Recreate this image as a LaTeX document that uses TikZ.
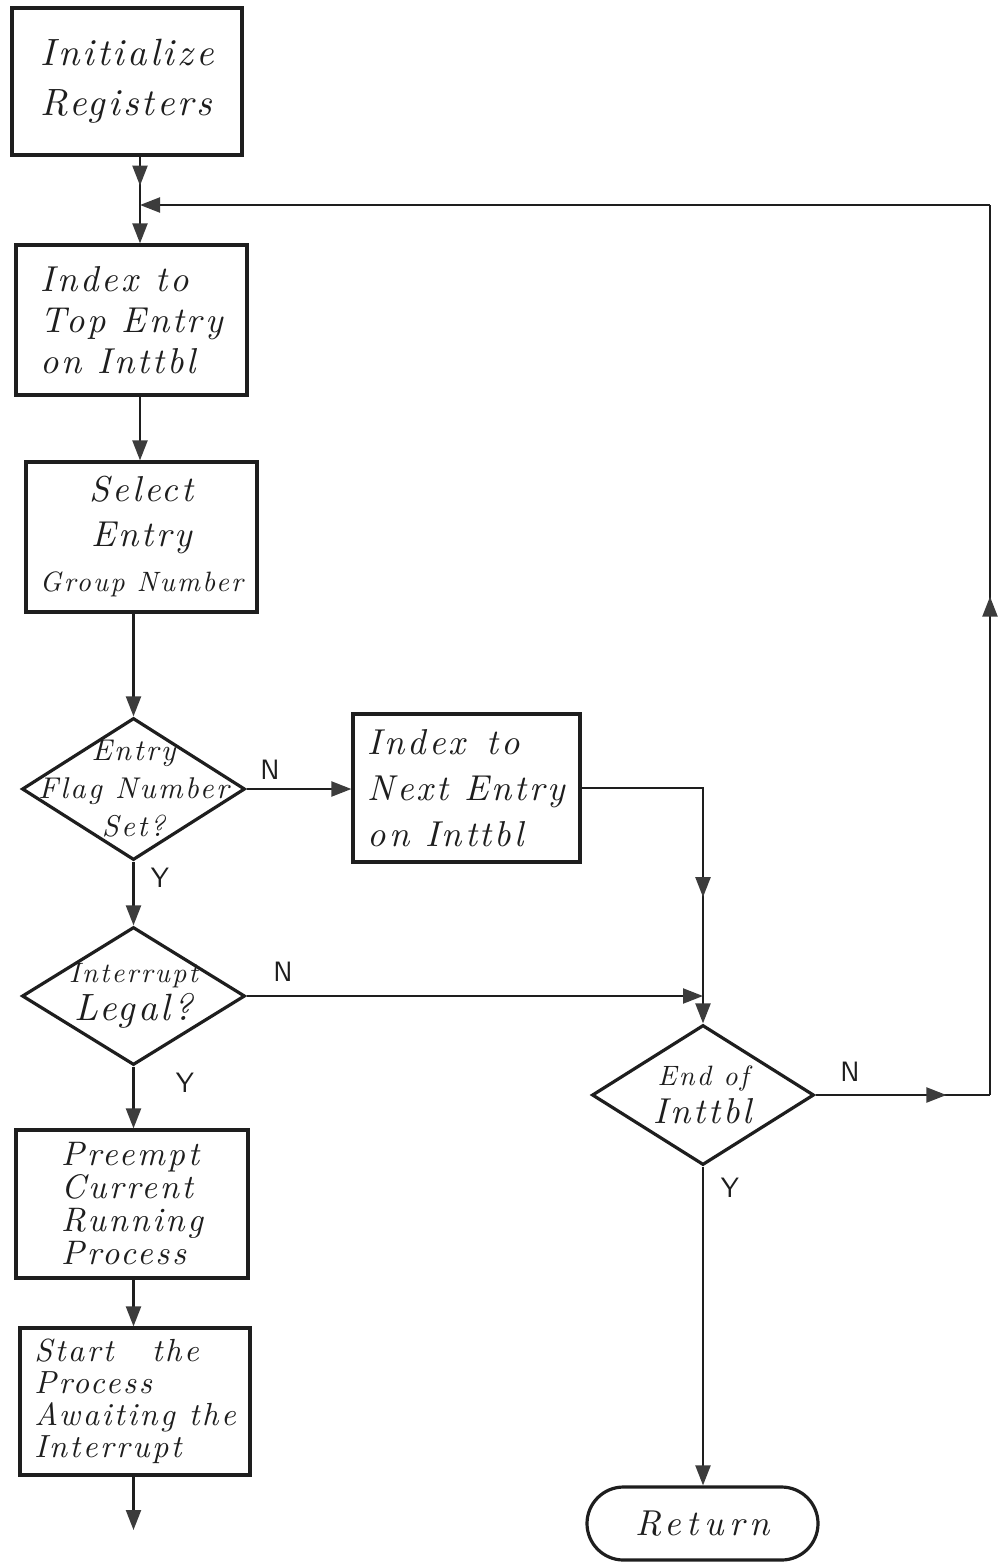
\documentclass[tikz,border=0pt]{standalone}
\usepackage{fontspec}
\usetikzlibrary{arrows.meta,shapes.geometric,shapes.misc,decorations.markings}
\newfontfamily\hand{lmroman10}[Extension=.otf,UprightFont=*-regular,ItalicFont=*-italic,
  BoldFont=*-bold,BoldItalicFont=*-bolditalic,LetterSpace=8]
\newfontfamily\handwide{lmroman10}[Extension=.otf,UprightFont=*-regular,ItalicFont=*-italic,
  BoldFont=*-bold,BoldItalicFont=*-bolditalic,LetterSpace=15]
\definecolor{ink}{HTML}{1E1E1E}
\definecolor{tipgray}{HTML}{3C3C3C}
\begin{document}
\begin{tikzpicture}[x=0.5pt,y=-0.5pt,
  conn/.style={draw=ink,line width=1.1pt},
  endtip/.style={-{Triangle[length=10pt,width=7.5pt,color=tipgray]}},
  midtip/.style={postaction={decorate},decoration={markings,
      mark=at position #1 with {\arrow{Triangle[length=10pt,width=7.5pt,color=tipgray]}}}},
  box/.style={draw=ink,line width=1.6pt,rectangle,inner sep=0pt,align=left,text=ink},
  dia/.style={draw=ink,line width=1.6pt,diamond,inner sep=0pt},
  dtext/.style={align=center,text=ink,font=\hand\itshape\fontsize{15}{19}\selectfont},
  yn/.style={text=ink,font=\sffamily\fontsize{14}{14}\selectfont},
]
\useasboundingbox (0,0) rectangle (999,1562);

% process boxes
\node[box,minimum width=115pt,minimum height=73.5pt,
      font=\hand\itshape\fontsize{19}{25}\selectfont] (init) at (127,81.5) {Initialize\\Registers};
\node[box,minimum width=115.5pt,minimum height=75pt,
      font=\hand\itshape\fontsize{18}{20.5}\selectfont] (top) at (131.5,320)
      {Index\hspace{0.5em}to\\Top Entry\\on Inttbl};
\node[box,align=center,minimum width=115.5pt,minimum height=75pt,
      font=\hand\itshape\fontsize{18}{22.5}\selectfont] (sel) at (141.5,537)
      {Select\\Entry\\{\fontsize{14}{18}\selectfont Group Number}};
\node[box,minimum width=113.5pt,minimum height=74pt,
      font=\hand\itshape\fontsize{18}{23}\selectfont] (next) at (466.5,788)
      {Index\hspace{0.6em}to\\Next Entry\\on Inttbl};
\node[box,minimum width=116pt,minimum height=74pt,
      font=\hand\itshape\fontsize{17}{16.5}\selectfont] (pre) at (132,1204)
      {Preempt\\Current\\Running\\Process};
\node[box,minimum width=115pt,minimum height=73.5pt,
      font=\hand\itshape\fontsize{16}{16}\selectfont] (start) at (135,1401.5)
      {Start\hspace{1.2em}the\\Process\\Awaiting the\\Interrupt};

% decisions
\node[dia,minimum width=111.5pt,minimum height=71pt] (d1) at (133.5,789) {};
\node[dtext] (d1t) at (d1) {Entry\\Flag Number\\Set?};
\node[dia,minimum width=111.5pt,minimum height=69pt] (d2) at (133.5,996) {};
\node[dtext] (d2t) at (d2) {{\fontsize{14}{19}\selectfont Interrupt}\\{\fontsize{19}{23}\selectfont Legal?}};
\node[dia,minimum width=111pt,minimum height=70pt] (d3) at (703,1095) {};
\node[dtext] (d3t) at (d3) {{\fontsize{14}{19}\selectfont End of}\\{\fontsize{18}{22}\selectfont Inttbl}};

% terminal
\node[draw=ink,line width=1.6pt,rounded rectangle,minimum width=115.5pt,minimum height=36.5pt,
      inner sep=0pt,text=ink,font=\handwide\itshape\fontsize{18}{18}\selectfont] (ret) at (702.5,1523.5) {Return};

% branch labels
\node[yn] (n1) at (270,770) {N};
\node[yn] (y1) at (160,878) {Y};
\node[yn] (n2) at (283,972) {N};
\node[yn] (y2) at (185,1083) {Y};
\node[yn] (n3) at (850,1072) {N};
\node[yn] (y3) at (730,1188) {Y};

% junction points
\coordinate (junc) at (140,205);
\coordinate (merge) at (d3.north |- d2.east);
\coordinate (cr) at (990,1095);
\coordinate (ctr) at (990,205);
\coordinate (exit) at (133.5,1530);

% main column
\draw[conn,midtip=0.6] (init.south -| junc) -- (junc);
\draw[conn,endtip] (junc) -- (junc |- top.north);
\draw[conn,endtip] (top.south -| junc) -- (junc |- sel.north);
\draw[conn,endtip] (sel.south -| d1.north) -- (d1.north);
\draw[conn,endtip] (d1.south) -- (d2.north);
\draw[conn,endtip] (d2.south) -- (d2.south |- pre.north);
\draw[conn,endtip] (pre.south -| d2.south) -- (d2.south |- start.north);
\draw[conn,endtip] (start.south -| exit) -- (exit);

% right-hand branches
\draw[conn,endtip] (d1.east) -- (d1.east -| next.west);
\draw[conn,midtip=0.7] (next.east) -| (merge);
\draw[conn,endtip] (d2.east) -- (merge);
\draw[conn,endtip] (merge) -- (d3.north);
\draw[conn,endtip] (d3.south) -- (d3.south |- ret.north);

% loop back to the top
\draw[conn,midtip=0.75] (d3.east) -- (cr);
\draw[conn,midtip=0.56] (cr) -- (ctr);
\draw[conn,endtip] (ctr) -- (junc);
\end{tikzpicture}
\end{document}
